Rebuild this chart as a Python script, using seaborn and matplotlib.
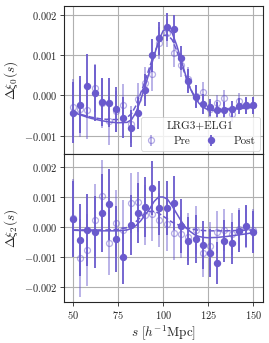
import numpy as np
import pandas as pd
import matplotlib
matplotlib.use('Agg')
import matplotlib.pyplot as plt
import seaborn as sns

# separations
s = [50, 54, 58, 62, 66, 70, 74, 78, 82, 86, 90, 94, 98, 102, 106, 110, 114, 118, 122, 126, 130, 134, 138, 142, 146, 150]

# monopole, post-reconstruction
xi0_post = [-0.00043, -0.00023, 0.00023, 0.00006, -0.00017, -0.00018, -0.00035, -0.00055, -0.00082, -0.00043,
            0.00013, 0.00099, 0.00141, 0.00169, 0.00165, 0.00092, 0.00036, -0.00003, -0.00021, -0.0003,
            -0.00036, -0.00036, -0.00033, -0.00026, -0.00025, -0.00025]
err0_post = [0.00075, 0.0007, 0.0008, 0.0007, 0.0006, 0.0006, 0.00055, 0.0005, 0.00045, 0.0004,
             0.0004, 0.0004, 0.0004, 0.00035, 0.00035, 0.0003, 0.0003, 0.00028, 0.00025, 0.00022,
             0.0002, 0.0002, 0.0002, 0.0002, 0.0002, 0.0002]
# monopole, pre-reconstruction
xi0_pre = [-0.0003, -0.00033, -0.00037, 0.00019, -0.0002, -0.00064, -0.0004, -0.00023, -0.00072, -0.0001,
           0.00031, 0.00052, 0.0013, 0.00155, 0.00105, 0.00076, 0.0004, -0.00002, 0.00008, -0.00035,
           -0.0002, -0.00007, -0.00047, -0.00015, -0.00026, -0.00025]
err0_pre = [0.0007, 0.0007, 0.0007, 0.0006, 0.0006, 0.0006, 0.0005, 0.0005, 0.00045, 0.0004,
            0.0004, 0.0004, 0.0004, 0.00035, 0.00035, 0.0003, 0.0003, 0.00028, 0.00025, 0.00022,
            0.0002, 0.0002, 0.0002, 0.0002, 0.0002, 0.0002]

# quadrupole, post-reconstruction
xi2_post = [0.00027, -0.00044, -0.00009, -0.00017, 0.00046, 0.00075, -0.00039, -0.00099, 0.00006, 0.00046,
            0.00066, 0.0013, 0.00063, 0.00064, 0.0008, 0.00004, -0.00048, -0.00039, -0.00059, -0.00086,
            -0.00119, -0.00048, -0.00053, -0.00013, 0.00003, -0.00017]
err2_post = [0.00127, 0.0012, 0.0012, 0.0012, 0.0013, 0.0012, 0.0011, 0.0009, 0.001, 0.001,
             0.001, 0.0009, 0.0009, 0.0009, 0.0009, 0.0009, 0.0008, 0.0008, 0.0008, 0.0008,
             0.0007, 0.0007, 0.0007, 0.0007, 0.0007, 0.0007]
# quadrupole, pre-reconstruction
xi2_pre = [0.0003, -0.00105, -0.00077, 0.00022, 0.00102, -0.00052, 0.00014, -0.00009, 0.0008, 0.00083,
           0.00039, 0.00044, 0.00022, 0.00011, -0.0002, -0.00024, -0.00035, -0.00009, -0.00088, -0.00064,
           -0.00017, -0.00011, -0.00024, -0.00006, 0.0, -0.00009]
err2_pre = [0.0013, 0.0013, 0.0012, 0.0012, 0.0012, 0.0011, 0.0011, 0.001, 0.001, 0.001,
            0.001, 0.0009, 0.0009, 0.0009, 0.0009, 0.0008, 0.0008, 0.0008, 0.0008, 0.0008,
            0.0007, 0.0007, 0.0007, 0.0007, 0.0007, 0.0007]

# best-fit models
s_model = [50, 55, 60, 65, 70, 75, 80, 82.5, 85, 87.5, 90, 92.5, 95, 97.5, 100, 102.5, 105, 107.5,
           110, 112.5, 115, 117.5, 120, 122.5, 125, 130, 135, 140, 145, 150]
m0_post = [-0.00042, -0.0005, -0.00057, -0.00062, -0.00066, -0.00068, -0.00067, -0.0006, -0.00042, -0.00012,
           0.00022, 0.0006, 0.00098, 0.00135, 0.0016, 0.00166, 0.00155, 0.00125, 0.00088, 0.0005,
           0.00018, -0.00005, -0.0002, -0.0003, -0.00036, -0.00038, -0.00036, -0.00034, -0.00032, -0.0003]
m0_pre = [-0.0004, -0.00048, -0.00054, -0.00058, -0.0006, -0.0006, -0.00055, -0.00045, -0.00025, 0.00005,
          0.00035, 0.0007, 0.00103, 0.0013, 0.00148, 0.0015, 0.00138, 0.00112, 0.0008, 0.00048,
          0.00018, -0.00003, -0.00017, -0.00026, -0.0003, -0.00033, -0.00033, -0.00032, -0.0003, -0.00028]
m2_post = [-0.00011, -0.00012, -0.00013, -0.00013, -0.00013, -0.00013, -0.0001, -0.00005, 0.00005, 0.0002,
           0.0004, 0.0006, 0.00085, 0.001, 0.001, 0.00092, 0.0007, 0.00045, 0.0002, -0.00002,
           -0.00015, -0.00026, -0.00032, -0.00035, -0.00036, -0.00035, -0.00032, -0.00028, -0.00024, -0.00019]
m2_pre = [-0.0001, -0.0001, -0.0001, -0.0001, -0.0001, -0.00008, -0.00002, 0.00006, 0.00018, 0.00032,
          0.00045, 0.00052, 0.00052, 0.00046, 0.00036, 0.00026, 0.00016, 0.00009, 0.00004, -0.00002,
          -0.00006, -0.00009, -0.00011, -0.00012, -0.00013, -0.00013, -0.00013, -0.00012, -0.00011, -0.0001]

pts = pd.DataFrame({'s': s, 'xi0_post': xi0_post, 'xi0_pre': xi0_pre,
                    'xi2_post': xi2_post, 'xi2_pre': xi2_pre})
models = pd.DataFrame({'s': s_model, 'm0_post': m0_post, 'm0_pre': m0_pre,
                       'm2_post': m2_post, 'm2_pre': m2_pre})

# plot
sns.set_style('ticks')
plt.rcParams['font.family'] = 'serif'
plt.rcParams['font.serif'] = ['cmr10', 'DejaVu Serif']
plt.rcParams['mathtext.fontset'] = 'cm'
plt.rcParams['axes.formatter.use_mathtext'] = True
plt.rcParams['axes.unicode_minus'] = True

col = '#6a5acd'

fig, (ax0, ax1) = plt.subplots(2, 1, figsize=(2.69, 3.43), dpi=100, sharex=True)
fig.subplots_adjust(left=0.238, right=0.978, top=0.983, bottom=0.12, hspace=0)

for ax, key, e_post, e_pre in [(ax0, '0', err0_post, err0_pre), (ax1, '2', err2_post, err2_pre)]:
    ax.grid(True, color='#b0b0b0', linewidth=0.8, zorder=0)
    h_pre = ax.errorbar(pts['s'], pts['xi%s_pre' % key], yerr=e_pre, fmt='o', ms=4.3,
                        mfc='none', mec=col, color=col, alpha=0.5, elinewidth=1.3, mew=0.9,
                        zorder=2)
    h_post = ax.errorbar(pts['s'], pts['xi%s_post' % key], yerr=e_post, fmt='o', ms=4.3,
                         color=col, elinewidth=1.3, zorder=3)
    sns.lineplot(x='s', y='m%s_post' % key, data=models, ax=ax, color=col, lw=1.1, zorder=4, legend=False)
    sns.lineplot(x='s', y='m%s_pre' % key, data=models, ax=ax, color=col, lw=1.1, ls='--', zorder=4, legend=False)
    ax.tick_params(labelsize=7.5, length=3, width=0.6, pad=2)
    for sp in ax.spines.values():
        sp.set_linewidth(0.8)
    if key == '0':
        leg_handles = [h_pre, h_post]

ax0.set_ylim(-0.00145, 0.00222)
ax1.set_ylim(-0.0025, 0.00244)
ax0.set_yticks([-0.001, 0.0, 0.001, 0.002])
ax1.set_yticks([-0.002, -0.001, 0.0, 0.001, 0.002])
ax0.yaxis.set_major_formatter(matplotlib.ticker.FormatStrFormatter('$%.3f$'))
ax1.yaxis.set_major_formatter(matplotlib.ticker.FormatStrFormatter('$%.3f$'))
ax1.set_xlim(45, 155.5)
ax1.set_xticks([50, 75, 100, 125, 150])
ax1.xaxis.set_major_formatter(matplotlib.ticker.FormatStrFormatter('$%d$'))

ax0.set_xlabel('')
ax0.set_ylabel(r'$\Delta\xi_0(s)$', fontsize=9.5, labelpad=3)
ax1.set_ylabel(r'$\Delta\xi_2(s)$', fontsize=9.5, labelpad=3)
ax1.set_xlabel(r'$s\ [h^{-1}\mathrm{Mpc}]$', fontsize=9.5, labelpad=2)

leg = ax0.legend(leg_handles, ['Pre', 'Post'], ncol=2, loc='lower right', title='LRG3+ELG1',
                 fontsize=8, title_fontsize=8, frameon=True, borderaxespad=0.3,
                 columnspacing=1.4, handletextpad=1.5, handlelength=1.0)
leg.get_frame().set_linewidth(0.6)

fig.savefig('out.png', dpi=100)
